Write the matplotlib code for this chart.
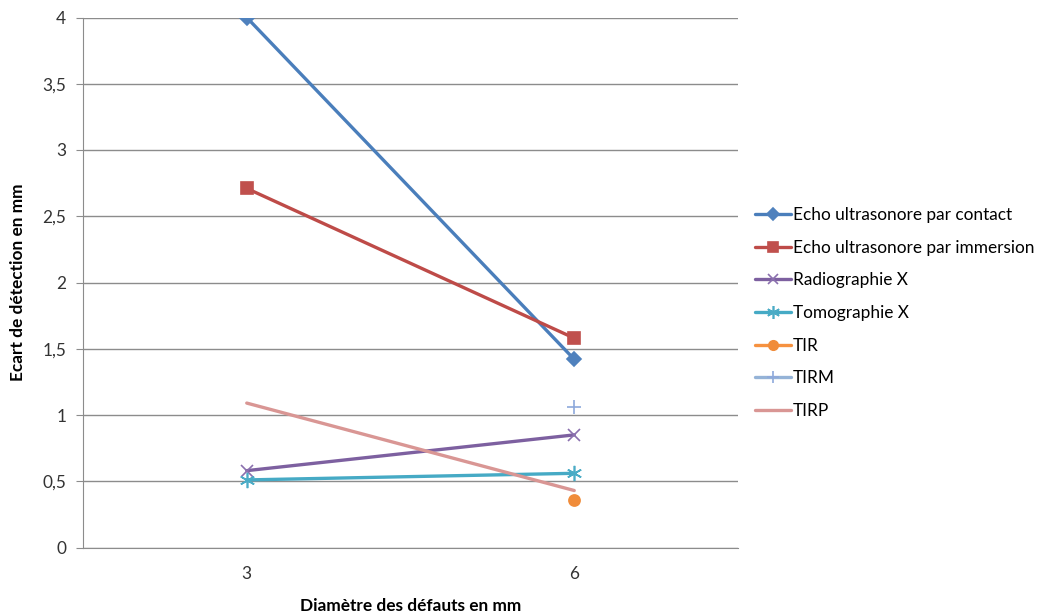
import numpy as np
import matplotlib.pyplot as plt
from matplotlib.ticker import FuncFormatter

# --- data ---
categories = ['3', '6']
echo_contact = [4.0, 1.42]
echo_immersion = [2.71, 1.58]
radio_x = [0.58, 0.85]
tomo_x = [0.51, 0.56]
tir = [np.nan, 0.36]
tirm = [np.nan, 1.06]
tirp = [1.09, 0.43]

series = [
    ('Echo ultrasonore par contact', echo_contact, '#4A7EBB', '#4F81BD', 'D', 7),
    ('Echo ultrasonore par immersion', echo_immersion, '#BE4B48', '#C0504D', 's', 8),
    ('Radiographie X', radio_x, '#7D60A0', '#8A70AE', 'x', 9),
    ('Tomographie X', tomo_x, '#46AAC5', '#4BACC6', (6, 2, 0), 11),
    ('TIR', tir, '#F69240', '#F08C3A', 'o', 8),
    ('TIRM', tirm, '#95B3D7', '#8EA9DB', '+', 10),
    ('TIRP', tirp, '#D99694', '#D99694', None, 0),
]

plt.rcParams['font.family'] = ['Lato', 'DejaVu Sans']
fs = 12.4

fig = plt.figure(figsize=(10.48, 6.16), dpi=100)
ax = fig.add_axes([83/1048, 1 - 547.5/616, 655/1048, 530/616])

x = np.arange(len(categories))
for name, vals, lc, mc, mk, ms in series:
    ax.plot(x, vals, color=lc, lw=2.4, marker=mk, markersize=ms,
            markerfacecolor=mc, markeredgecolor=mc, markeredgewidth=1.2,
            label=name, solid_capstyle='round')

ax.set_xlim(-0.5, len(categories) - 0.5)
ax.set_ylim(0, 4)
ax.set_xticks(x)
ax.set_xticklabels(categories)
ax.set_yticks(np.arange(0, 4.01, 0.5))
ax.yaxis.set_major_formatter(FuncFormatter(lambda v, p: ('%g' % v).replace('.', ',')))

ax.grid(axis='y', color='#8C8C8C', lw=1)
ax.set_axisbelow(True)
for s in ['top', 'right']:
    ax.spines[s].set_visible(False)
for s in ['left', 'bottom']:
    ax.spines[s].set_color('#8C8C8C')
ax.tick_params(axis='y', length=5, color='#8C8C8C', labelsize=fs, labelcolor='#333333', pad=7)
ax.tick_params(axis='x', length=0, labelsize=fs, labelcolor='#333333', pad=13)

ax.set_ylabel('Ecart de détection en mm', fontsize=fs, fontweight='bold', labelpad=12)
ax.set_xlabel('Diamètre des défauts en mm', fontsize=fs, fontweight='bold', labelpad=12)

fig.legend(loc='center left', bbox_to_anchor=(755/1048, 1 - 313/616), frameon=False,
           fontsize=fs, handlelength=2.1, handletextpad=0.12, labelspacing=0.97,
           borderaxespad=0, borderpad=0, markerscale=0.85)

fig.savefig('out.png', dpi=100)
